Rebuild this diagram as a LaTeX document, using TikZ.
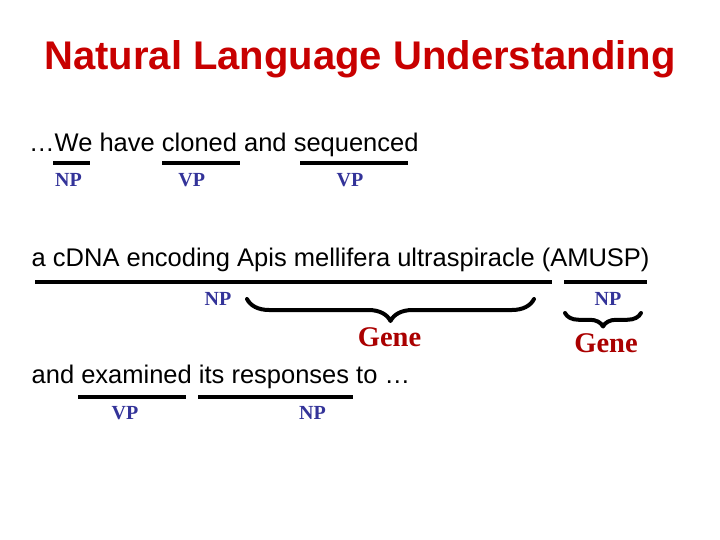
\documentclass[tikz,border=0pt]{standalone}
\usepackage{fontspec}
\setmainfont{Liberation Sans}
\newfontfamily\tms{Liberation Serif}
\usetikzlibrary{decorations.pathreplacing}
\definecolor{titlered}{RGB}{200,0,0}
\definecolor{genered}{RGB}{170,0,0}
\definecolor{tagblue}{RGB}{51,51,153}

\begin{document}
\begin{tikzpicture}[x=1pt,y=-1pt,
  words/.style={anchor=base west,inner sep=0,font=\fontsize{25.5}{30}\selectfont},
  tag/.style={anchor=base,inner sep=0,text=tagblue,font=\tms\bfseries\fontsize{20}{22}\selectfont},
  gene/.style={anchor=base,inner sep=0,text=genered,font=\tms\bfseries\fontsize{28.5}{32}\selectfont},
  bar/.style={line width=4pt},
  brc/.style={line width=4pt,line cap=round,line join=round,decorate,decoration={brace,mirror,amplitude=#1}}]
  \useasboundingbox (0,0) rectangle (720,540);
  \node[anchor=base,inner sep=0,text=titlered,font=\bfseries\fontsize{40}{48}\selectfont] (title) at (360,69.5) {Natural Language Understanding};

  % first sentence part
  \node[words] (s1) at (29,151.7) {…We have cloned and sequenced};
  \foreach \a/\b in {53/90,162/240,300/408}
    \draw[bar] (\a,162.7) -- (\b,162.7);
  \node[tag] (np1) at (68.5,186.7) {NP};
  \node[tag] (vp1) at (191.7,186.7) {VP};
  \node[tag] (vp2) at (350,186.7) {VP};

  % second part
  \node[words] (s2) at (31.5,266.7) {a cDNA encoding Apis mellifera ultraspiracle (AMUSP)};
  \foreach \a/\b in {35/551.7,564/647.3}
    \draw[bar] (\a,282) -- (\b,282);
  \node[tag] (np2) at (218,305.5) {NP};
  \node[tag] (np3) at (608,305) {NP};
  \draw[brc=22] (247,299) -- (534,299);
  \draw[brc=13.5] (565,313) -- (641,313);
  \node[gene] (gene1) at (389.5,346) {Gene};
  \node[gene] (gene2) at (606,352) {Gene};

  % third part
  \node[words] (s3) at (31.5,383.3) {and examined its responses to …};
  \foreach \a/\b in {78.3/185.7,198.3/353.3}
    \draw[bar] (\a,396.7) -- (\b,396.7);
  \node[tag] (vp3) at (125,419.5) {VP};
  \node[tag] (np4) at (312.5,419.5) {NP};
\end{tikzpicture}
\end{document}
